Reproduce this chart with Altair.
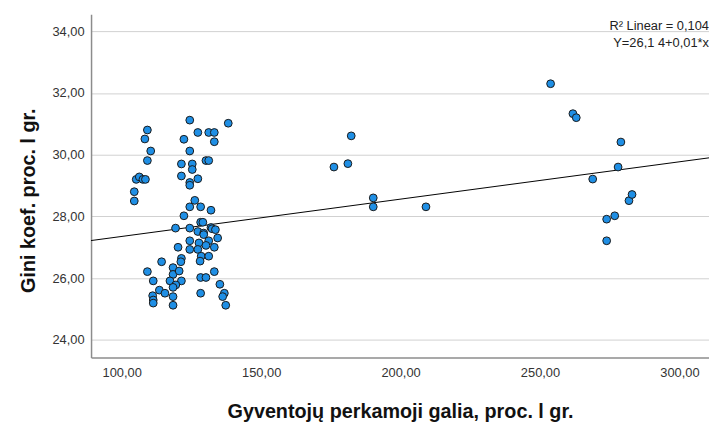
import altair as alt
import pandas as pd

# ---- data ----
x_vals = [
    109.2, 108.3, 110.4, 109.2, 105.2, 106.3, 107.6, 108.5, 104.5, 104.5,
    124.4, 122.3, 127.3, 131.2, 133.2, 133.2, 138.2, 124.4, 121.4, 125.3,
    125.3, 130.2, 131.2, 121.4, 127.3, 124.4, 124.4, 126.2, 124.4, 128.3,
    132.0, 122.3,
    119.3, 124.4, 128.3, 129.1, 132.0, 127.3, 129.4, 132.4, 133.6, 129.4,
    124.4, 131.2, 134.4, 127.7, 120.2, 124.4, 127.3, 130.2, 133.2, 128.5,
    131.2, 128.1, 121.4, 121.2,
    114.3, 118.4, 109.2, 118.4, 120.6, 111.3, 117.3, 121.4, 119.4, 118.4,
    113.5, 115.5, 111.1, 111.3, 111.3, 118.4, 118.4, 128.3, 130.2, 133.2,
    135.2, 128.3, 136.8, 136.2, 137.3,
    176.1, 181.1, 182.3, 190.2, 190.2, 209.1, 253.8, 261.8, 263.0, 268.9,
    273.9, 273.9, 276.8, 278.0, 279.0, 281.9, 283.0,
]
y_vals = [
    30.80, 30.51, 30.12, 29.81, 29.20, 29.28, 29.20, 29.20, 28.80, 28.50,
    31.12, 30.50, 30.72, 30.72, 30.72, 30.42, 31.02, 30.12, 29.70, 29.70,
    29.52, 29.81, 29.81, 29.31, 29.22, 29.10, 29.01, 28.52, 28.31, 28.31,
    28.20, 28.02,
    27.62, 27.62, 27.81, 27.81, 27.64, 27.51, 27.46, 27.60, 27.57, 27.41,
    27.21, 27.21, 27.30, 27.14, 27.00, 26.93, 26.93, 27.06, 27.00, 26.71,
    26.71, 26.55, 26.64, 26.53,
    26.53, 26.34, 26.21, 26.12, 26.23, 25.91, 25.91, 25.91, 25.78, 25.70,
    25.61, 25.51, 25.43, 25.29, 25.19, 25.40, 25.12, 26.02, 26.02, 26.21,
    25.80, 25.51, 25.51, 25.40, 25.12,
    29.60, 29.71, 30.61, 28.60, 28.31, 28.31, 32.30, 31.33, 31.20, 29.21,
    27.91, 27.21, 28.02, 29.60, 30.41, 28.51, 28.71,
]
fit_intercept = 26.14
fit_slope = 0.0121
x_domain = [89.0, 310.6]
y_domain = [23.43, 34.55]
x_ticks = [100, 150, 200, 250, 300]
y_ticks = [24, 26, 28, 30, 32, 34]
x_title = "Gyventojų perkamoji galia, proc. l gr."
y_title = "Gini koef. proc. l gr."
annot_r2 = "R² Linear = 0,104"
annot_eq = "Y=26,1 4+0,01*x"

FONT = "Liberation Sans"
W, H = 625, 347

pts = pd.DataFrame({"x": x_vals, "y": y_vals})
line_df = pd.DataFrame({
    "x": x_domain,
    "y": [fit_intercept + fit_slope * v for v in x_domain],
})

label_expr = "replace(format(datum.value, '.2f'), '.', ',')"
xscale = alt.Scale(domain=x_domain, nice=False, zero=False)
yscale = alt.Scale(domain=y_domain, nice=False, zero=False)

xaxis = alt.Axis(
    values=x_ticks, labelExpr=label_expr, title=x_title, grid=False,
    ticks=False, tickSize=0, labelPadding=9, labelFlush=False,
    domainColor="#8c8c8c", domainWidth=1.5,
    labelFont=FONT, labelFontSize=13, labelColor="#333333",
    titleFont=FONT, titleFontSize=20, titleFontWeight="bold", titleColor="#111111",
    titleBaseline="alphabetic", titleY=61,
)
yaxis = alt.Axis(
    values=y_ticks, labelExpr=label_expr, title=y_title, grid=True,
    gridColor="#d0d0d0", gridWidth=1,
    ticks=False, tickSize=0, labelPadding=7,
    domainColor="#8c8c8c", domainWidth=1.5,
    labelFont=FONT, labelFontSize=13, labelColor="#333333",
    titleFont=FONT, titleFontSize=20, titleFontWeight="bold", titleColor="#111111",
    titleAngle=-90, titleX=-63, titleY=188, titleAlign="center", titleBaseline="middle",
)

base_x = alt.X("x:Q", scale=xscale, axis=xaxis)
base_y = alt.Y("y:Q", scale=yscale, axis=yaxis)

fit_line = alt.Chart(line_df).mark_line(color="#000000", strokeWidth=1).encode(
    x=base_x, y=base_y
)
points = alt.Chart(pts).mark_point(
    shape="circle", filled=True, size=62, fill="#1f8fe5", stroke="#1a1a1a",
    strokeWidth=1, opacity=1,
).encode(x=alt.X("x:Q", scale=xscale), y=alt.Y("y:Q", scale=yscale))

t1 = alt.Chart(pd.DataFrame({"t": [annot_r2]})).mark_text(
    align="right", baseline="alphabetic", font=FONT, fontSize=13, color="#222222"
).encode(text="t:N", x=alt.value(W), y=alt.value(16))
t2 = alt.Chart(pd.DataFrame({"t": [annot_eq]})).mark_text(
    align="right", baseline="alphabetic", font=FONT, fontSize=13, color="#222222"
).encode(text="t:N", x=alt.value(W), y=alt.value(33))

chart = alt.layer(fit_line, points, t1, t2).properties(
    width=W, height=H,
    autosize=alt.AutoSizeParams(type="none"),
    padding={"left": 84, "top": 4, "right": 0, "bottom": 67},
    background="white",
).configure_view(strokeWidth=0)

chart.save("out.html", embed_options={"renderer": "svg", "actions": False})
